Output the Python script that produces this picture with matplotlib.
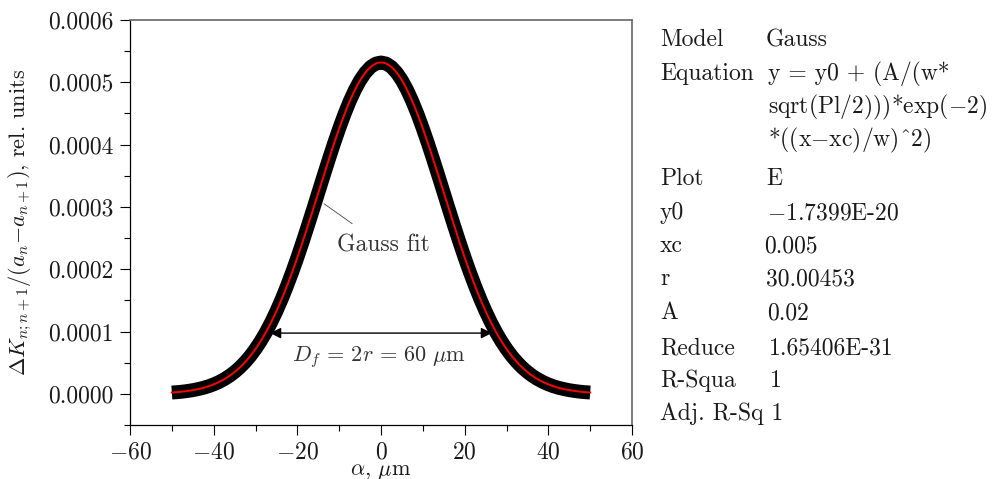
import numpy as np
import matplotlib
matplotlib.use('Agg')
import matplotlib.pyplot as plt
from matplotlib.ticker import MultipleLocator, FormatStrFormatter, FuncFormatter

plt.rcParams['font.family'] = 'serif'
plt.rcParams['font.serif'] = ['cmr10']
plt.rcParams['mathtext.fontset'] = 'cm'
plt.rcParams['axes.formatter.use_mathtext'] = True

# measured points (alpha in um, dK in rel. units), symmetric about alpha = 0
alpha = np.arange(-50, 50.01, 1.25)
dk_half = [0.0000021, 0.0000027, 0.0000035, 0.0000046, 0.0000059, 0.0000076,
           0.0000096, 0.0000121, 0.0000152, 0.0000189, 0.0000234, 0.0000287,
           0.0000350, 0.0000423, 0.0000509, 0.0000607, 0.0000720, 0.0000847,
           0.0000990, 0.0001150, 0.0001326, 0.0001518, 0.0001727, 0.0001950,
           0.0002186, 0.0002435, 0.0002693, 0.0002957, 0.0003226, 0.0003494,
           0.0003758, 0.0004014, 0.0004258, 0.0004486, 0.0004693, 0.0004876,
           0.0005031, 0.0005154, 0.0005245, 0.0005300]
dk_peak = 0.0005318
dk = dk_half + [dk_peak] + dk_half[::-1]

# Gauss fit parameters
fit_y0 = -1.7399e-20
fit_xc = 0.005
fit_w = 30.00453
fit_A = 0.02

table_rows = [
    ('Model', 'Gauss'),
    ('Equation', 'y = y0 + (A/(w*'),
    ('', 'sqrt(Pl/2)))*exp($-$2)'),
    ('', '*((x$-$xc)/w)^2)'),
    ('Plot', 'E'),
    ('y0', '$-$1.7399E-20'),
    ('xc', '0.005'),
    ('r', '30.00453'),
    ('A', '0.02'),
    ('Reduce', '1.65406E-31'),
    ('R-Squa', '1'),
    ('Adj. R-Sq 1', ''),
]
row_y = [40, 74, 107, 140, 179, 213, 246, 279, 313, 348, 381, 414]
col2_x = [766, 768, 768, 768, 766, 767, 764, 766, 767, 769, 770, 0]

fig = plt.figure(figsize=(9.98, 4.79), dpi=100)
ax = fig.add_axes([130 / 998, 1 - 425 / 479, 502 / 998, 405 / 479])

ax.plot(alpha, dk, color='black', lw=10, solid_capstyle='butt',
        solid_joinstyle='round')
xf = np.linspace(-50, 50, 400)
yf = fit_y0 + fit_A / (fit_w * np.sqrt(np.pi / 2)) * np.exp(-2 * ((xf - fit_xc) / fit_w) ** 2)
ax.plot(xf, yf, color='red', lw=1.4)

ax.annotate('Gauss fit', xy=(-13.6, 0.000305), xytext=(0.5, 0.000238),
            ha='center', va='center', fontsize=17, color='#333333',
            arrowprops=dict(arrowstyle='-', color='#444444', lw=0.6,
                            shrinkA=10, shrinkB=0))
ax.annotate('', xy=(-26.5, 0.0000975), xytext=(26.5, 0.0000975),
            arrowprops=dict(arrowstyle='<|-|>', color='black', lw=1,
                            mutation_scale=16, shrinkA=0, shrinkB=0))
ax.text(-0.5, 0.0000595, r'$D_f\,=\,2r\,=\,60\ \mu$m', ha='center',
        va='center', fontsize=16, color='#333333')

ax.set_xlim(-60, 60)
ax.set_ylim(-0.00005, 0.0006)
ax.xaxis.set_major_locator(MultipleLocator(20))
ax.xaxis.set_minor_locator(MultipleLocator(10))
ax.yaxis.set_major_locator(MultipleLocator(0.0001))
ax.yaxis.set_minor_locator(MultipleLocator(0.00005))
ax.xaxis.set_major_formatter(FuncFormatter(lambda v, p: '$%d$' % round(v)))
ax.yaxis.set_major_formatter(FormatStrFormatter('%.4f'))
ax.tick_params(which='both', direction='out', top=False, right=False,
               labelsize=17, width=0.8, labelcolor='#1a1a1a')
ax.tick_params(which='major', length=7, pad=5)
ax.tick_params(which='minor', length=4)
for s in ['left', 'bottom']:
    ax.spines[s].set_linewidth(0.9)
for s in ['top', 'right']:
    ax.spines[s].set_color('#666666')
    ax.spines[s].set_linewidth(1.2)

ax.set_xlabel(r'$\alpha$, $\mu$m', fontsize=16, labelpad=-1, color='#1a1a1a')
ax.set_ylabel(r'$\Delta K_{n;n+1}/(a_n{-}a_{n+1})$, rel. units', fontsize=16,
              labelpad=10, color='#1a1a1a')

for (name, val), yy, xx in zip(table_rows, row_y, col2_x):
    fy = 1 - yy / 479
    if name:
        fig.text(660 / 998, fy, name, fontsize=17, va='center', color='#1a1a1a')
    if val:
        fig.text(xx / 998, fy, val, fontsize=17, va='center', color='#1a1a1a')

fig.savefig('out.png', dpi=100)
